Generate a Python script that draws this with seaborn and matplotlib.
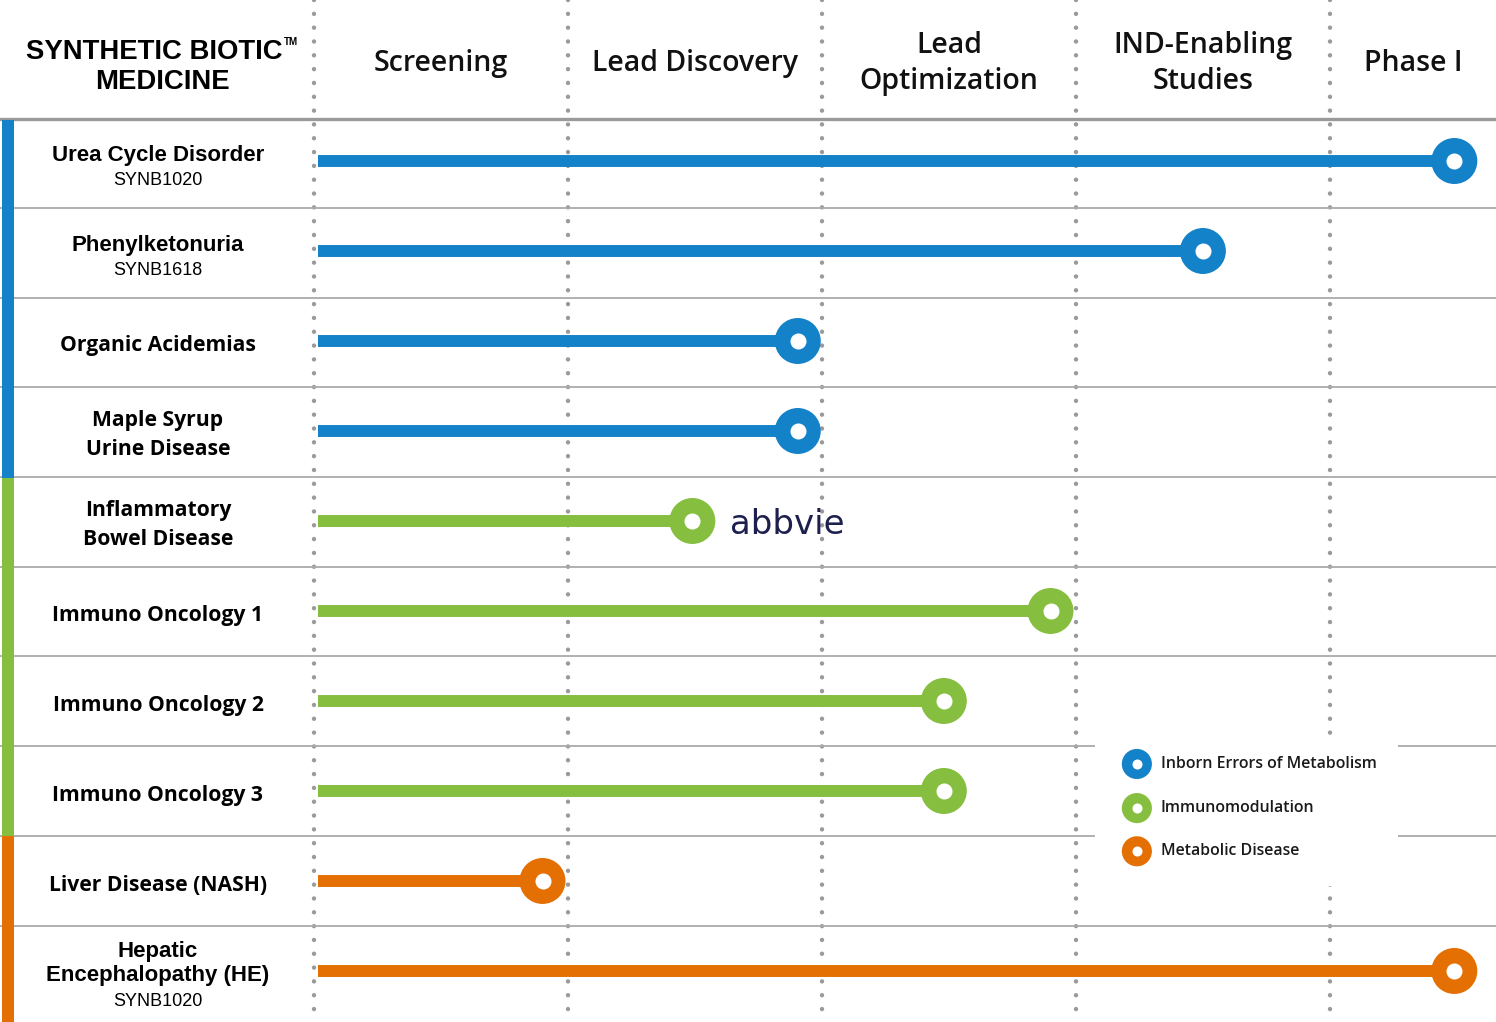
import numpy as np
import pandas as pd
import matplotlib
matplotlib.use('Agg')
import matplotlib.pyplot as plt
import seaborn as sns

# pipeline data
stages = ['Screening', 'Lead Discovery', 'Lead\nOptimization', 'IND-Enabling\nStudies', 'Phase I']
programs = ['Urea Cycle Disorder', 'Phenylketonuria', 'Organic Acidemias', 'Maple Syrup\nUrine Disease',
            'Inflammatory\nBowel Disease', 'Immuno Oncology 1', 'Immuno Oncology 2', 'Immuno Oncology 3',
            'Liver Disease (NASH)', 'Hepatic\nEncephalopathy (HE)']
codes = ['SYNB1020', 'SYNB1618', '', '', '', '', '', '', '', 'SYNB1020']
areas = ['Inborn Errors of Metabolism'] * 4 + ['Immunomodulation'] * 4 + ['Metabolic Disease'] * 2
progress = [4.49, 3.50, 1.905, 1.905, 1.49, 2.90, 2.48, 2.48, 0.90, 4.49]  # in stage units
partner = ['', '', '', '', 'abbvie', '', '', '', '', '']
area_names = ['Inborn Errors of Metabolism', 'Immunomodulation', 'Metabolic Disease']
area_colors = ['#1482C8', '#86BE40', '#E47004']

df = pd.DataFrame({'program': programs, 'code': codes, 'area': areas, 'progress': progress})
df['row'] = np.arange(len(df))
palette = dict(zip(area_names, area_colors))
arial_rows = {'Urea Cycle Disorder', 'Phenylketonuria', 'Hepatic\nEncephalopathy (HE)'}
sans = 'Open Sans'

sns.set_theme(style='white')
fig = plt.figure(figsize=(14.96, 10.22), dpi=100)
ax = fig.add_axes([0, 0, 1, 1])
ax.set_xlim(-1.236, 4.654)
ax.set_ylim(9.567, -1.789)
ax.axis('off')

# dotted stage separators
for k in range(1, 6):
    ax.plot([k - 1, k - 1], [-1.79, 9.49], color='#9A9A9A', lw=3.2,
            linestyle=(0, (0.01, 3.1)), dash_capstyle='round', zorder=1)

# row separators
ax.axhline(-0.47, color='#9A9A9A', lw=2.4, zorder=2)
for i in range(len(df) - 1):
    ax.axhline(i + 0.52 - 0.003 * i, color='#AAAAAA', lw=1.3, zorder=2)

# coloured strip at the left, one block per therapeutic area
bounds = [-0.46, 3.52, 7.5, 9.567]
for j, c in enumerate(area_colors):
    ax.fill_between([-1.228, -1.182], bounds[j], bounds[j + 1], color=c, lw=0, zorder=3)

# legend box
ax.fill_between([3.075, 4.268], 6.38, 8.06, color='white', lw=0, zorder=4)
leg_y = [6.70, 7.19, 7.67]
leg = pd.DataFrame({'x': [3.24] * 3, 'y': leg_y, 'area': area_names})
sns.scatterplot(data=leg, x='x', y='y', hue='area', palette=palette, s=470, linewidth=0,
                legend=False, ax=ax, zorder=5)
ax.scatter(leg['x'], leg['y'], s=52, color='white', lw=0, zorder=6)
for y, name in zip(leg_y, area_names):
    ax.text(3.335, y, name, fontsize=11.4, family=sans, weight='semibold',
            color='#1A1A1A', va='center', ha='left', zorder=6)

# progress bars
ax.hlines(df['row'], 0.016, df['progress'], colors=[palette[a] for a in df['area']],
          lw=8.6, capstyle='butt', zorder=6)
sns.scatterplot(data=df, x='progress', y='row', hue='area', palette=palette, s=1096,
                linewidth=0, legend=False, ax=ax, zorder=7)
ax.scatter(df['progress'], df['row'], s=133, color='white', lw=0, zorder=8)

for i, p in enumerate(partner):
    if p:
        ax.text(df['progress'][i] + 0.15, i + 0.04, p, fontsize=24.5, family='DejaVu Sans', weight='normal',
                color='#1D1F4E', va='center', ha='left', zorder=8)

# stage headers
stage_x = [0.5, 1.5, 2.5, 3.5, 4.33]
for x, s in zip(stage_x, stages):
    ax.text(x, -1.08, s, fontsize=20.5, family=sans, weight='semibold', color='#111111',
            ha='center', va='center', linespacing=1.33)
ax.text(-0.629, -1.21, 'SYNTHETIC BIOTIC', fontsize=19.8, family='Liberation Sans',
        weight='bold', color='black', ha='center', va='center')
ax.text(-0.118, -1.32, 'TM', fontsize=7, family='Liberation Sans',
        weight='bold', color='black', ha='left', va='center')
ax.text(-0.598, -0.877, 'MEDICINE', fontsize=19.8, family='Liberation Sans',
        weight='bold', color='black', ha='center', va='center')

# program labels
for i, r in df.iterrows():
    arial = r['program'] in arial_rows
    fam = 'Liberation Sans' if arial else sans
    fs = 16 if arial else 15.2
    lines = r['program'].count('\n') + 1
    if r['code']:
        yc = i - 0.06 if lines == 1 else i - 0.08
        ax.text(-0.614, yc, r['program'], fontsize=fs, family=fam, weight='bold', color='black',
                ha='center', va='center', linespacing=1.2)
        ax.text(-0.614, yc + lines * 0.14 + 0.14, r['code'], fontsize=13, family='Liberation Sans',
                color='black', ha='center', va='center')
    else:
        ax.text(-0.614, i + 0.045, r['program'], fontsize=fs, family=fam, weight='bold', color='black',
                ha='center', va='center', linespacing=1.5)

fig.savefig('out.png', dpi=100)
